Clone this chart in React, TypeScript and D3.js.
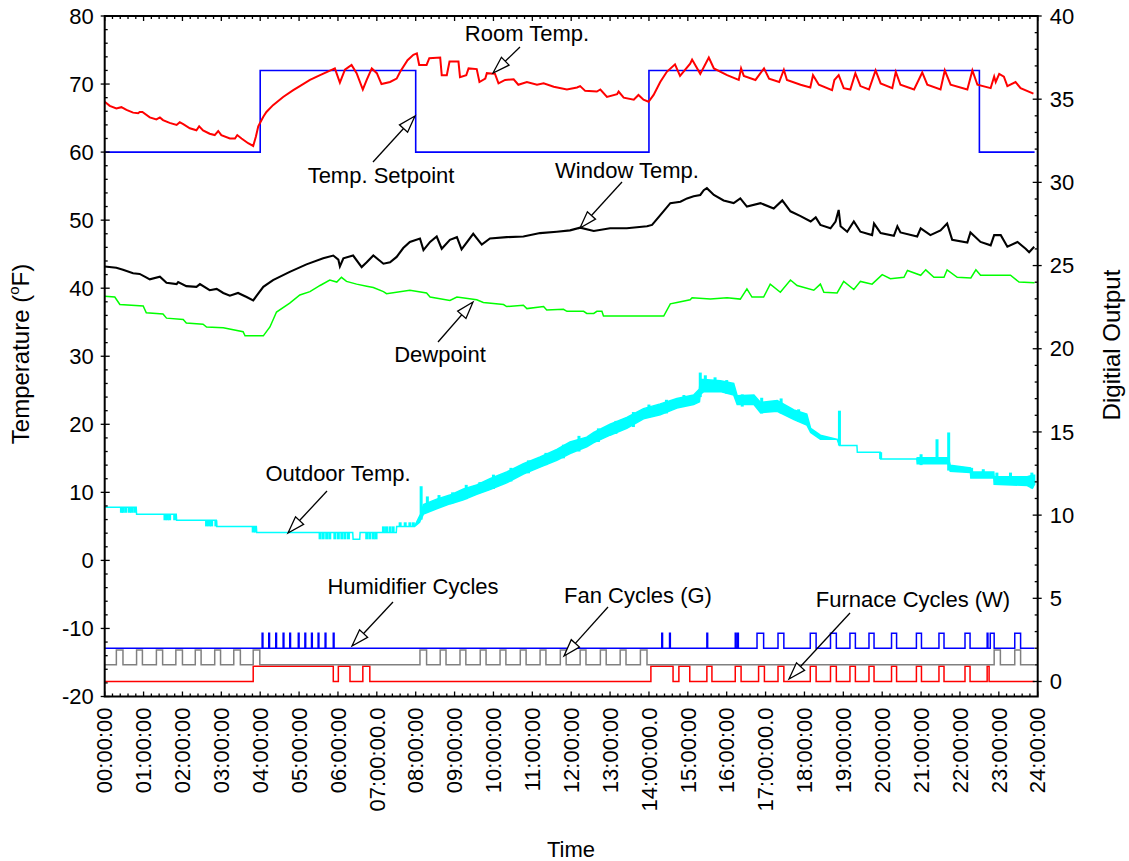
import React from "react";
import * as d3 from "d3";

type Pt = [number, number];

// Hour tick labels along the time axis
const timeLabels = [
  "00:00:00", "01:00:00", "02:00:00", "03:00:00", "04:00:00", "05:00:00",
  "06:00:00", "07:00:00.0", "08:00:00", "09:00:00", "10:00:00", "11:00:00",
  "12:00:00", "13:00:00", "14:00:00.0", "15:00:00", "16:00:00", "17:00:00.0",
  "18:00:00", "19:00:00", "20:00:00", "21:00:00", "22:00:00", "23:00:00", "24:00:00",
];
const tempTicks = [-20, -10, 0, 10, 20, 30, 40, 50, 60, 70, 80];
const digitalTicks = [0, 5, 10, 15, 20, 25, 30, 35, 40];

// Thermostat setpoint (°F), step changes at the listed hours
const setpointHours = [0, 4, 8, 14, 22.5, 23.92];
const setpointValues = [60, 72, 60, 72, 60, 60];

// Room temperature (°F) [hour, value]
const roomTemp: Pt[] = [
  [0, 67.4], [0.13, 66.8], [0.3, 66.4], [0.43, 66.6], [0.56, 66.2], [0.73, 65.8], [0.86, 65.7],
  [0.9, 65.9], [0.97, 65.9], [1.16, 65.1], [1.33, 64.8], [1.42, 65.1], [1.5, 64.7], [1.67, 64.3],
  [1.85, 64.0], [1.93, 64.4], [2.02, 64.1], [2.19, 63.5], [2.36, 63.2], [2.43, 63.8], [2.53, 63.2],
  [2.7, 62.7], [2.83, 62.5], [2.92, 63.1], [3.0, 62.5], [3.22, 62.0], [3.35, 62.0], [3.41, 62.5],
  [3.52, 62.0], [3.69, 61.3], [3.82, 60.9], [3.89, 62.3], [3.95, 63.8], [4.08, 65.2], [4.16, 65.9],
  [4.33, 66.9], [4.59, 68.1], [4.85, 69.1], [5.02, 69.7], [5.28, 70.6], [5.54, 71.3], [5.88, 72.2],
  [5.92, 72.3], [6.05, 70.2], [6.18, 72.1], [6.35, 72.8], [6.48, 71.6], [6.64, 69.2], [6.74, 70.6],
  [6.87, 72.3], [7.0, 71.6], [7.12, 70.0], [7.34, 70.3], [7.51, 70.8], [7.6, 71.8], [7.79, 73.5],
  [7.94, 74.3], [8.03, 74.5], [8.09, 72.8], [8.28, 72.8], [8.35, 73.8], [8.63, 73.9], [8.67, 71.3],
  [8.8, 71.3], [8.87, 73.3], [9.1, 73.3], [9.14, 71.0], [9.3, 71.3], [9.36, 72.3], [9.57, 72.2],
  [9.64, 70.3], [9.79, 70.8], [9.83, 71.6], [10.04, 71.5], [10.13, 70.1], [10.3, 70.6], [10.52, 70.7],
  [10.64, 69.9], [10.86, 70.3], [11.12, 69.9], [11.29, 70.1], [11.55, 69.6], [11.89, 69.2],
  [12.15, 69.5], [12.23, 69.7], [12.36, 69.0], [12.66, 68.9], [12.75, 69.2], [12.92, 68.1],
  [13.18, 68.5], [13.22, 68.9], [13.35, 68.0], [13.61, 67.7], [13.73, 68.4], [13.86, 67.7],
  [13.99, 67.4], [14.12, 68.4], [14.29, 70.3], [14.46, 71.8], [14.67, 72.9], [14.8, 71.2],
  [15.06, 73.0], [15.11, 73.6], [15.32, 71.5], [15.54, 73.9], [15.67, 72.3], [16.01, 71.3],
  [16.31, 70.6], [16.37, 72.3], [16.44, 71.2], [16.74, 70.6], [16.96, 72.3], [17.09, 70.8],
  [17.35, 70.3], [17.47, 72.1], [17.55, 70.6], [17.9, 69.9], [18.15, 69.5], [18.22, 71.3],
  [18.37, 69.9], [18.71, 69.1], [18.77, 70.6], [18.88, 71.3], [19.01, 69.4], [19.18, 69.2],
  [19.31, 71.6], [19.44, 69.7], [19.66, 69.2], [19.83, 72.0], [19.96, 70.1], [20.26, 69.4],
  [20.35, 71.8], [20.47, 69.9], [20.82, 69.2], [21.03, 71.7], [21.16, 69.9], [21.5, 69.2],
  [21.61, 72.0], [21.76, 69.9], [22.19, 69.2], [22.32, 72.0], [22.45, 69.9], [22.79, 69.4],
  [22.88, 71.1], [22.92, 70.3], [23.01, 71.5], [23.13, 71.1], [23.22, 69.7], [23.43, 70.3],
  [23.56, 69.4], [23.89, 68.6],
];

// Inside window surface temperature (°F)
const windowTemp: Pt[] = [
  [0, 43.2], [0.3, 43.0], [0.47, 42.7], [0.73, 42.2], [0.9, 42.1], [1.03, 41.7], [1.16, 41.3],
  [1.42, 41.7], [1.59, 40.8], [1.85, 40.6], [1.89, 40.9], [2.1, 40.3], [2.36, 40.2], [2.45, 40.6],
  [2.7, 39.7], [2.88, 39.9], [3.05, 39.3], [3.22, 38.9], [3.43, 39.3], [3.65, 38.7], [3.82, 38.2],
  [3.91, 38.9], [4.08, 40.2], [4.33, 41.2], [4.76, 42.4], [5.19, 43.5], [5.62, 44.4], [5.88, 44.8],
  [6.01, 44.2], [6.05, 43.2], [6.14, 44.4], [6.39, 44.8], [6.61, 43.1], [6.74, 43.8], [6.91, 44.8],
  [7.17, 43.6], [7.34, 43.8], [7.51, 44.6], [7.68, 45.9], [7.85, 46.8], [8.11, 47.3], [8.2, 45.6],
  [8.37, 46.8], [8.54, 47.6], [8.67, 45.8], [8.88, 47.1], [9.06, 47.5], [9.18, 45.7], [9.48, 48.0],
  [9.7, 46.4], [9.91, 47.3], [10.34, 47.5], [10.77, 47.6], [11.2, 48.1], [11.63, 48.3],
  [11.97, 48.5], [12.23, 48.9], [12.58, 48.4], [13.0, 48.8], [13.43, 48.8], [13.95, 49.1],
  [14.08, 49.3], [14.33, 51.0], [14.55, 52.5], [14.81, 52.7], [14.98, 53.2], [15.15, 53.5],
  [15.32, 53.7], [15.41, 54.4], [15.49, 54.7], [15.67, 53.7], [15.92, 52.9], [16.18, 52.5],
  [16.35, 53.2], [16.52, 52.0], [16.87, 52.5], [17.21, 51.7], [17.43, 52.9], [17.64, 51.3],
  [17.9, 50.6], [18.16, 49.8], [18.29, 50.4], [18.41, 49.3], [18.67, 48.8], [18.8, 49.8],
  [18.88, 51.5], [18.93, 49.1], [19.1, 48.3], [19.27, 49.8], [19.44, 48.3], [19.74, 47.8],
  [19.79, 49.5], [19.96, 48.1], [20.3, 47.7], [20.39, 49.1], [20.47, 48.2], [20.9, 47.6],
  [20.99, 48.8], [21.24, 47.8], [21.5, 48.5], [21.67, 49.5], [21.8, 47.1], [22.19, 46.7],
  [22.27, 48.2], [22.53, 46.8], [22.79, 46.3], [22.88, 47.8], [23.05, 47.8], [23.22, 46.1],
  [23.48, 46.8], [23.69, 45.8], [23.78, 45.3], [23.91, 46.1],
];

// Dewpoint (°F)
const dewpoint: Pt[] = [
  [0, 38.8], [0.26, 38.7], [0.39, 37.6], [0.99, 37.4], [1.07, 36.4], [1.5, 36.2], [1.59, 35.6],
  [2.02, 35.4], [2.1, 34.9], [2.53, 34.7], [2.62, 34.3], [3.05, 34.2], [3.56, 33.6], [3.61, 33.0],
  [4.08, 33.0], [4.25, 34.3], [4.42, 36.5], [4.76, 37.8], [5.02, 39.0], [5.28, 39.5], [5.54, 40.4],
  [5.79, 41.2], [5.97, 40.9], [6.09, 41.6], [6.22, 41.0], [6.48, 40.6], [6.74, 40.3], [6.91, 40.1],
  [7.17, 39.5], [7.25, 39.2], [7.85, 39.7], [8.28, 39.3], [8.37, 38.7], [8.88, 38.2], [9.06, 38.7],
  [9.57, 38.3], [9.74, 37.9], [10.26, 37.6], [10.34, 37.3], [10.77, 37.5], [10.86, 37.0],
  [11.29, 37.3], [11.37, 36.8], [11.8, 36.9], [11.89, 36.6], [12.32, 36.6], [12.4, 36.3],
  [12.58, 36.3], [12.66, 36.6], [12.79, 36.6], [12.83, 35.9], [14.38, 35.9], [14.55, 37.7],
  [14.72, 37.9], [15.06, 38.3], [15.11, 38.6], [15.58, 38.4], [16.01, 38.6], [16.35, 38.4],
  [16.52, 39.9], [16.65, 38.7], [16.95, 38.7], [17.12, 40.6], [17.38, 39.4], [17.64, 41.2],
  [17.81, 40.4], [18.24, 39.7], [18.41, 40.6], [18.5, 39.4], [18.84, 39.3], [19.01, 41.0],
  [19.27, 39.8], [19.44, 41.0], [19.74, 40.6], [20.0, 42.0], [20.21, 41.4], [20.56, 41.6],
  [20.65, 42.6], [20.99, 41.9], [21.12, 42.7], [21.33, 41.6], [21.59, 41.6], [21.67, 42.7],
  [21.93, 41.6], [22.28, 41.5], [22.41, 42.7], [22.53, 41.9], [23.3, 41.9], [23.52, 40.9],
  [23.92, 40.8],
];

// Outdoor temperature (°F): [hour, low, high] of the reading band
const outdoorTemp: [number, number, number][] = [
  [0, 7.8, 7.8], [0.81, 7.8, 7.8], [0.82, 6.8, 6.8], [1.84, 6.8, 6.8], [1.85, 5.9, 5.9],
  [2.87, 5.9, 5.9], [2.88, 5.0, 5.0], [3.9, 5.0, 5.0], [3.91, 4.1, 4.1], [6.38, 4.1, 4.1],
  [6.39, 3.1, 3.1], [6.56, 3.1, 3.1], [6.57, 4.1, 4.1], [7.5, 4.1, 4.1], [7.51, 5.0, 5.0],
  [7.97, 5.0, 5.0], [8.1, 5.6, 6.5], [8.13, 6.0, 6.8], [8.2, 6.8, 8.2], [8.54, 7.6, 9.0],
  [8.88, 8.3, 9.6], [9.23, 8.9, 10.5], [9.57, 9.7, 11.1], [9.91, 10.4, 12.0], [10.34, 11.4, 13.0],
  [10.77, 12.7, 14.2], [11.2, 13.7, 15.2], [11.63, 14.7, 16.3], [11.97, 15.7, 17.4],
  [12.4, 16.7, 18.1], [12.58, 17.3, 18.8], [13.0, 18.4, 20.0], [13.43, 19.4, 21.0],
  [13.86, 20.8, 22.3], [14.29, 21.4, 23.0], [14.72, 22.4, 23.8], [15.15, 22.9, 24.3],
  [15.3, 23.3, 25.2], [15.32, 24.4, 26.6], [15.41, 24.8, 26.6], [15.84, 24.8, 26.4],
  [16.18, 24.3, 26.0], [16.27, 22.9, 24.2], [16.7, 22.9, 24.3], [16.87, 21.7, 23.2],
  [17.3, 21.9, 23.5], [17.73, 20.7, 22.1], [18.06, 19.9, 21.5], [18.16, 18.8, 19.4],
  [18.41, 17.8, 18.4], [18.84, 17.8, 17.8], [18.9, 16.9, 16.9], [19.35, 16.9, 16.9],
  [19.36, 15.9, 15.9], [19.95, 15.9, 15.9], [19.96, 14.9, 14.9], [20.89, 14.9, 14.9],
  [20.9, 14.2, 15.1], [21.7, 14.2, 15.1], [21.75, 13.1, 14.0], [22.27, 12.9, 13.6],
  [22.28, 12.1, 13.0], [22.87, 12.1, 13.0], [22.88, 11.2, 12.3], [23.73, 11.0, 12.3],
  [23.86, 10.6, 12.5], [23.92, 11.2, 12.5],
];

// Short excursions of the outdoor reading: [hour, from °F, to °F]
const outdoorFlicker: [number, number, number][] = [
  [0.43, 7.8, 7.0], [0.47, 7.8, 7.0], [0.54, 7.8, 7.0], [0.63, 7.8, 7.0], [0.69, 7.8, 7.0],
  [0.77, 7.8, 7.0], [1.55, 6.8, 5.9], [1.61, 6.8, 5.9], [1.67, 6.8, 5.9], [1.8, 6.8, 5.9],
  [2.62, 5.9, 5.0], [2.69, 5.9, 5.0], [2.75, 5.9, 5.0], [2.86, 5.9, 5.0], [3.82, 5.0, 4.1],
  [3.88, 5.0, 4.1], [5.54, 4.1, 3.1], [5.62, 4.1, 3.1], [5.71, 4.1, 3.1], [5.79, 4.1, 3.1],
  [5.92, 4.1, 3.1], [6.01, 4.1, 3.1], [6.1, 4.1, 3.1], [6.18, 4.1, 3.1], [6.27, 4.1, 3.1],
  [6.74, 4.1, 3.1], [6.82, 4.1, 3.1], [6.91, 4.1, 3.1], [6.98, 4.1, 3.1], [7.17, 4.1, 5.0],
  [7.25, 4.1, 5.0], [7.34, 4.1, 5.0], [7.42, 4.1, 5.0], [7.6, 5.0, 5.6], [7.73, 5.0, 5.6],
  [7.85, 5.0, 5.6], [7.94, 5.0, 5.6], [8.14, 6.0, 10.9], [8.3, 7.5, 9.4], [8.6, 7.8, 9.6],
  [8.95, 8.4, 10.0], [9.3, 9.0, 11.1], [9.65, 9.9, 11.5], [10.0, 10.5, 12.6], [10.45, 11.6, 13.6],
  [10.9, 12.8, 14.7], [11.35, 14.0, 15.8], [11.8, 15.0, 17.0], [12.2, 16.0, 18.3],
  [12.7, 17.4, 19.4], [13.15, 18.6, 20.5], [13.6, 19.6, 21.8], [14.0, 21.0, 22.9],
  [14.45, 21.6, 23.6], [14.9, 22.6, 24.3], [15.32, 24.0, 27.6], [15.45, 24.8, 27.2],
  [15.7, 24.8, 26.9], [16.0, 24.5, 26.5], [16.4, 22.6, 24.4], [16.9, 21.6, 23.9],
  [17.4, 21.6, 23.8], [17.85, 20.4, 22.2], [18.9, 16.9, 22.0], [19.96, 14.9, 15.9],
  [21.0, 14.0, 15.6], [21.41, 14.2, 17.8], [21.71, 13.2, 18.8], [22.3, 12.2, 13.6],
  [22.6, 12.2, 13.4], [22.95, 11.3, 12.9], [23.3, 11.1, 12.9], [23.85, 10.6, 12.9],
];

// Digital outputs: on-intervals in hours, drawn on the right axis
const furnaceOn: Pt[] = [
  [3.82, 5.88], [6.01, 6.31], [6.64, 6.82], [14.05, 14.62], [14.77, 15.05], [15.49, 15.62],
  [16.22, 16.37], [16.82, 16.97], [17.32, 17.47], [18.15, 18.3], [18.67, 18.82], [19.17, 19.31],
  [19.66, 19.79], [20.24, 20.37], [20.88, 21.01], [21.46, 21.59], [22.13, 22.26], [22.7, 22.75],
];
const fanOn: Pt[] = [
  [0.3, 0.47], [0.82, 0.97], [1.33, 1.49], [1.83, 2.0], [2.33, 2.48], [2.83, 2.98], [3.32, 3.49],
  [3.82, 3.99], [8.11, 8.28], [8.63, 8.78], [9.14, 9.29], [9.66, 9.81], [10.17, 10.32],
  [10.69, 10.84], [11.2, 11.35], [11.72, 11.87], [12.23, 12.38], [12.75, 12.9], [13.26, 13.41],
  [13.78, 13.95], [22.88, 23.04], [23.41, 23.56],
];
const humidifierOn: Pt[] = [
  [4.05, 4.07], [4.22, 4.24], [4.4, 4.42], [4.59, 4.61], [4.76, 4.78], [4.98, 5.0], [5.15, 5.17],
  [5.32, 5.34], [5.49, 5.51], [5.67, 5.69], [5.88, 5.9], [14.33, 14.35], [14.53, 14.55],
  [15.49, 15.51], [16.22, 16.24], [16.28, 16.3], [16.78, 16.95], [17.32, 17.47], [18.15, 18.3],
  [18.67, 18.82], [19.17, 19.31], [19.66, 19.79], [20.24, 20.37], [20.88, 21.01], [21.46, 21.59],
  [22.13, 22.26], [22.7, 22.72], [22.78, 22.88], [23.41, 23.56],
];
const digitalEnd = 23.92;

const FONT = "'Liberation Sans', Arial, Helvetica, sans-serif";

function pulseTrain(on: Pt[], base: number, amp: number): Pt[] {
  const pts: Pt[] = [[0, base]];
  for (const [a, b] of on) {
    pts.push([a, base], [a, base + amp], [b, base + amp], [b, base]);
  }
  pts.push([digitalEnd, base]);
  return pts;
}

function Arrow({ x1, y1, x2, y2 }: { x1: number; y1: number; x2: number; y2: number }) {
  const dx = x2 - x1, dy = y2 - y1;
  const len = Math.hypot(dx, dy);
  const ux = dx / len, uy = dy / len;
  const L = 17, w = 5.5;
  const bx = x2 - ux * L, by = y2 - uy * L;
  const nx = -uy, ny = ux;
  const head = `${x2},${y2} ${bx + nx * w},${by + ny * w} ${bx - nx * w},${by - ny * w}`;
  return (
    <g>
      <line x1={x1} y1={y1} x2={bx} y2={by} stroke="#000" strokeWidth={1.3} />
      <polygon points={head} fill="#fff" stroke="#000" strokeWidth={1.3} />
    </g>
  );
}

export default function App() {
  const W = 1129, H = 861;
  const left = 104.7, right = 1037.7, top = 16, bottom = 696.5;

  const x = d3.scaleLinear().domain([0, 24]).range([left, right]);
  const yL = d3.scaleLinear().domain([-20, 80]).range([bottom, top]);
  const yR = d3.scaleLinear().domain([0, 40]).range([681.5, top]);

  const lineL = d3.line<Pt>().x((d) => x(d[0])).y((d) => yL(d[1]));
  const lineR = d3.line<Pt>().x((d) => x(d[0])).y((d) => yR(d[1]));
  const stepL = d3
    .line<number>()
    .x((_, i) => x(setpointHours[i]))
    .y((_, i) => yL(setpointValues[i]))
    .curve(d3.curveStepAfter);
  const outdoorArea = d3
    .area<[number, number, number]>()
    .x((d) => x(d[0]))
    .y0((d) => yL(d[1]))
    .y1((d) => yL(d[2]));

  const hourTicks = d3.range(0, 25);
  const minorX = d3.range(0, 24.001, 0.2).filter((v) => Math.abs(v - Math.round(v)) > 1e-6);
  const minorL = d3.range(-20, 80.001, 2).filter((v) => v % 10 !== 0);
  const minorR = d3.range(0, 40.001, 1).filter((v) => v % 5 !== 0);

  const tickStroke = { stroke: "#000", strokeWidth: 1.3 };

  return (
    <svg
      width={W}
      height={H}
      style={{ position: "absolute", left: 0, top: 0, background: "#fff", fontFamily: FONT }}
    >
      <rect width={W} height={H} fill="#fff" />

      {/* digital output traces */}
      <path d={lineR(pulseTrain(furnaceOn, 0, 0.92)) || ""} fill="none" stroke="#ff0000" strokeWidth={1.5} />
      <path d={lineR(pulseTrain(fanOn, 1, 0.9)) || ""} fill="none" stroke="#808080" strokeWidth={1.5} />
      <path d={lineR(pulseTrain(humidifierOn, 2, 0.9)) || ""} fill="none" stroke="#0000ff" strokeWidth={1.5} />

      {/* outdoor temperature: reading band plus short excursions */}
      <path d={outdoorArea(outdoorTemp) || ""} fill="#00ffff" stroke="#00ffff" strokeWidth={1.5} />
      {outdoorFlicker.map(([h, a, b], i) => (
        <rect
          key={`of${i}`}
          x={x(h) - 1.5}
          width={3}
          y={Math.min(yL(a), yL(b))}
          height={Math.abs(yL(a) - yL(b))}
          fill="#00ffff"
        />
      ))}

      <path d={lineL(dewpoint) || ""} fill="none" stroke="#00ff00" strokeWidth={1.5} />
      <path d={lineL(windowTemp) || ""} fill="none" stroke="#000" strokeWidth={2.1} />
      <path d={stepL(setpointValues) || ""} fill="none" stroke="#0000ff" strokeWidth={1.6} />
      <path d={lineL(roomTemp) || ""} fill="none" stroke="#ff0000" strokeWidth={2} />

      {/* frame */}
      <rect x={left} y={top} width={right - left} height={bottom - top} fill="none" stroke="#000" strokeWidth={2} />

      {/* bottom and top ticks */}
      {hourTicks.map((h) => (
        <g key={`hx${h}`}>
          <line x1={x(h)} x2={x(h)} y1={bottom} y2={bottom - 5} {...tickStroke} />
          <line x1={x(h)} x2={x(h)} y1={top} y2={top + 5} {...tickStroke} />
        </g>
      ))}
      {minorX.map((h, i) => (
        <g key={`mx${i}`}>
          <line x1={x(h)} x2={x(h)} y1={bottom} y2={bottom - 3} {...tickStroke} />
          <line x1={x(h)} x2={x(h)} y1={top} y2={top + 3} {...tickStroke} />
        </g>
      ))}
      {timeLabels.map((t, i) => (
        <text
          key={t}
          transform={`translate(${x(hourTicks[i])},${bottom + 11}) rotate(-90)`}
          textAnchor="end"
          dy="0.35em"
          fontSize={22}
          fill="#000"
        >
          {t}
        </text>
      ))}

      {/* left axis */}
      {tempTicks.map((v) => (
        <g key={`l${v}`}>
          <line x1={left - 4} x2={left + 5} y1={yL(v)} y2={yL(v)} {...tickStroke} />
          <text x={left - 11} y={yL(v)} dy="0.35em" textAnchor="end" fontSize={22} fill="#000">
            {v}
          </text>
        </g>
      ))}
      {minorL.map((v) => (
        <line key={`ml${v}`} x1={left} x2={left + 3} y1={yL(v)} y2={yL(v)} {...tickStroke} />
      ))}

      {/* right axis */}
      {digitalTicks.map((v) => (
        <g key={`r${v}`}>
          <line x1={right - 5} x2={right + 4} y1={yR(v)} y2={yR(v)} {...tickStroke} />
          <text x={right + 12} y={yR(v)} dy="0.35em" textAnchor="start" fontSize={22} fill="#000">
            {v}
          </text>
        </g>
      ))}
      {minorR.map((v) => (
        <line key={`mr${v}`} x1={right - 3} x2={right} y1={yR(v)} y2={yR(v)} {...tickStroke} />
      ))}

      {/* axis titles */}
      <text transform="translate(29,354) rotate(-90)" textAnchor="middle" fontSize={24} fill="#000">
        Temperature (<tspan fontSize={15} dy={-10}>o</tspan>
        <tspan dy={10}>F)</tspan>
      </text>
      <text transform="translate(1120,345) rotate(-90)" textAnchor="middle" fontSize={24} fill="#000">
        Digitial Output
      </text>
      <text x={571} y={857} textAnchor="middle" fontSize={22} fill="#000">
        Time
      </text>

      {/* annotations */}
      <g fontSize={22} fill="#000" textAnchor="middle">
        <text x={527} y={41}>Room Temp.</text>
        <text x={381} y={183}>Temp. Setpoint</text>
        <text x={627} y={178}>Window Temp.</text>
        <text x={440} y={362}>Dewpoint</text>
        <text x={338} y={481}>Outdoor Temp.</text>
        <text x={413} y={594}>Humidifier Cycles</text>
        <text x={638} y={603}>Fan Cycles (G)</text>
        <text x={913} y={607}>Furnace Cycles (W)</text>
      </g>
      <Arrow x1={520} y1={47} x2={493} y2={73} />
      <Arrow x1={373} y1={162} x2={415} y2={116} />
      <Arrow x1={622} y1={182} x2={580} y2={228} />
      <Arrow x1={438} y1={342} x2={473} y2={302} />
      <Arrow x1={327} y1={491} x2={288} y2={533} />
      <Arrow x1={393} y1={602} x2={352} y2={646} />
      <Arrow x1={608} y1={607} x2={564} y2={656} />
      <Arrow x1={850} y1={613} x2={789} y2={679} />
    </svg>
  );
}
